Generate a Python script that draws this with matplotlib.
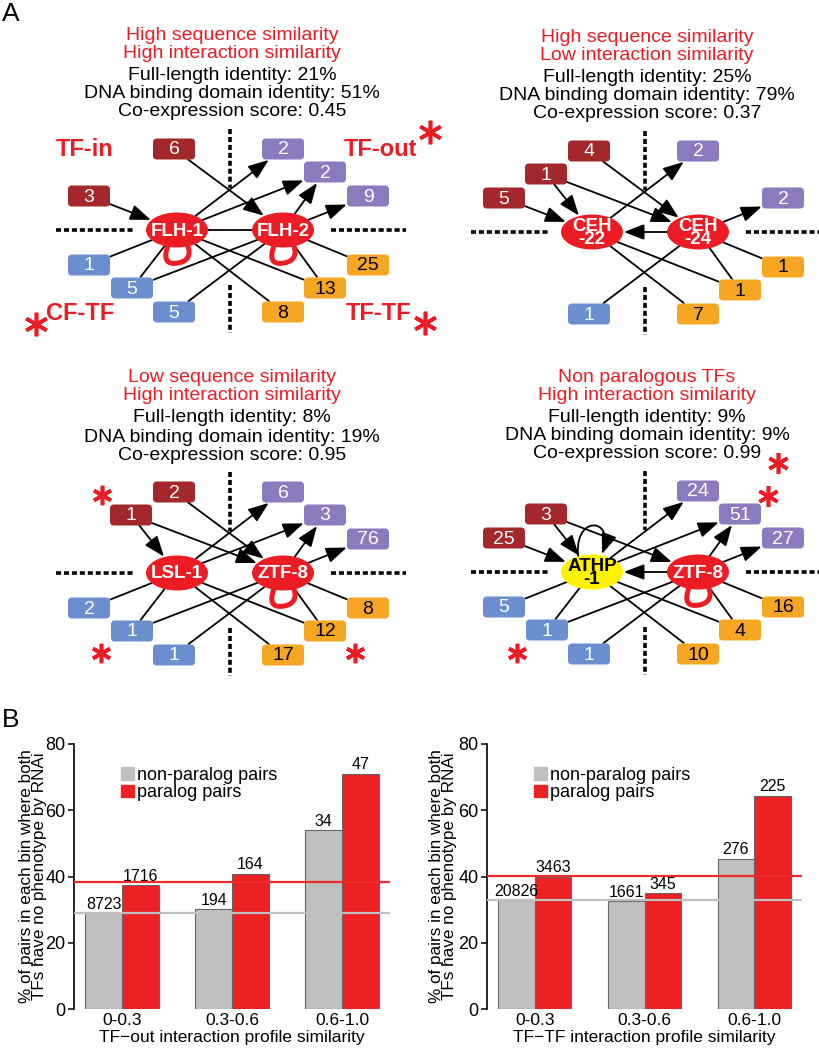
import matplotlib
matplotlib.use("Agg")
import matplotlib.pyplot as plt
from matplotlib.patches import FancyBboxPatch, Ellipse, FancyArrowPatch, Patch, PathPatch
from matplotlib.path import Path

plt.rcParams['font.family'] = ['Liberation Sans', 'DejaVu Sans']

W, H = 819, 1050
RED = "#ec1c24"
BOX_COL = {"in": "#a3282b", "out": "#8a7bbf", "cf": "#6b8ecf", "tt": "#f6a623"}
BOX_TXT = {"in": "white", "out": "white", "cf": "white", "tt": "black"}

# ---- panel A: the four example TF pairs ----
NET_CENTERS = [(230, 230), (645, 232), (230, 573), (645, 572)]
NET_TITLES = [("High sequence similarity", "High interaction similarity"),
              ("High sequence similarity", "Low interaction similarity"),
              ("Low sequence similarity", "High interaction similarity"),
              ("Non paralogous TFs", "High interaction similarity")]
FULL_ID = ["21%", "25%", "8%", "9%"]
DBD_ID = ["51%", "79%", "19%", "9%"]
COEXPR = ["0.45", "0.37", "0.95", "0.99"]
TF_NAMES = [("FLH-1", "FLH-2"), ("CEH\n-22", "CEH\n-24"), ("LSL-1", "ZTF-8"), ("ATHP\n-1", "ZTF-8")]
TF_FILL = [(RED, RED), (RED, RED), (RED, RED), ("#fff200", RED)]

# interactor counts per slot (in = TF-in, out = TF-out, cf = CF-TF, tt = TF-TF)
NET_COUNTS = [
    {"in0": 6, "in2": 3, "out0": 2, "out1": 2, "out2": 9,
     "cf0": 1, "cf1": 5, "cf2": 5, "tt0": 25, "tt1": 13, "tt2": 8},
    {"in0": 4, "in1": 1, "in2": 5, "out0": 2, "out2": 2,
     "cf2": 1, "tt0": 1, "tt1": 1, "tt2": 7},
    {"in0": 2, "in1": 1, "out0": 6, "out1": 3, "out2": 76,
     "cf0": 2, "cf1": 1, "cf2": 1, "tt0": 8, "tt1": 12, "tt2": 17},
    {"in1": 3, "in2": 25, "out0": 24, "out1": 51, "out2": 27,
     "cf0": 5, "cf1": 1, "cf2": 1, "tt0": 16, "tt1": 4, "tt2": 10},
]
# (slot, tf) edges; tf 0 = left TF, 1 = right TF
NET_EDGES = [
    [("in0", 1), ("in2", 0), ("out0", 0), ("out1", 0), ("out1", 1), ("out2", 1),
     ("cf0", 0), ("cf1", 0), ("cf1", 1), ("cf2", 1), ("tt1", 0), ("tt2", 0), ("tt0", 1), ("tt1", 1)],
    [("in0", 1), ("in1", 0), ("in1", 1), ("in2", 0), ("out0", 0), ("out2", 1),
     ("cf2", 1), ("tt0", 1), ("tt1", 1), ("tt1", 0), ("tt2", 0)],
    [("in0", 1), ("in1", 0), ("in1", 1), ("out0", 0), ("out1", 0), ("out1", 1), ("out2", 1),
     ("cf0", 0), ("cf1", 0), ("cf1", 1), ("cf2", 1), ("tt1", 0), ("tt2", 0), ("tt0", 1), ("tt1", 1)],
    [("in1", 0), ("in1", 1), ("in2", 0), ("out0", 0), ("out1", 0), ("out1", 1), ("out2", 1),
     ("cf0", 0), ("cf1", 0), ("cf1", 1), ("cf2", 1), ("tt1", 0), ("tt2", 0), ("tt0", 1), ("tt1", 1)],
]
TF_LINK = ["line", "right_to_left", None, "right_to_left"]
RED_LOOPS = [(True, True), (False, False), (False, True), (False, True)]
AUTO_LOOPS = [(False, False), (False, False), (False, False), (True, False)]

# layout of the box slots relative to the pair centre
SLOTS = {"in0": (-56, -81), "in1": (-99, -58), "in2": (-141, -34),
         "out0": (53, -81), "out1": (95, -58), "out2": (138, -34),
         "cf0": (-141, 35), "cf1": (-98, 58), "cf2": (-56, 82),
         "tt0": (138, 35), "tt1": (95, 58), "tt2": (53, 82)}
TF_DX = 53
BW, BH = 42, 21
TITLE_DY = [-195, -177, -155, -136, -118]
HEAD = "-|>,head_length=1.0,head_width=0.38"

# red asterisks: (x, y, size)
STARS = [(430, 132, 17), (36, 324, 17), (425, 323, 17),
         (102, 495, 14), (101, 653, 14), (355, 653, 14),
         (778, 463, 15), (768, 496, 15), (517, 653, 14)]

# ---- panel B data ----
BINS = ["0-0.3", "0.3-0.6", "0.6-1.0"]
OUT_NONPARALOG = [29.0, 30.2, 53.9]
OUT_PARALOG = [37.4, 40.8, 71.0]
OUT_N_NONPARALOG = [8723, 194, 34]
OUT_N_PARALOG = [1716, 164, 47]
OUT_BASELINE = [29.1, 38.2]          # non-paralog, paralog
TT_NONPARALOG = [32.9, 32.6, 45.4]
TT_PARALOG = [40.0, 34.9, 64.4]
TT_N_NONPARALOG = [20826, 1661, 276]
TT_N_PARALOG = [3463, 345, 225]
TT_BASELINE = [32.8, 40.1]

GREY = "#c0c0c0"
BAR_RED = "#ed2024"

fig = plt.figure(figsize=(W / 100, H / 100), dpi=100)
ax = fig.add_axes([0, 0, 1, 1])
ax.set_xlim(0, W)
ax.set_ylim(H, 0)
ax.axis("off")


def dotted(x0, y0, x1, y1):
    ax.plot([x0, x1], [y0, y1], color="black", lw=2.6, ls=(0, (1.4, 0.8)),
            solid_capstyle="butt", dash_capstyle="butt", zorder=0.5)


def arrow(pa, pb, a, b, head):
    ax.add_patch(FancyArrowPatch(a, b, patchA=pa, patchB=pb, arrowstyle=HEAD if head else "-",
                                 mutation_scale=12.5, lw=1.3, color="black",
                                 shrinkA=0, shrinkB=0.5, zorder=1))


for k, (cx, cy) in enumerate(NET_CENTERS):
    # titles
    lines = [NET_TITLES[k][0], NET_TITLES[k][1],
             f"Full-length identity: {FULL_ID[k]}",
             f"DNA binding domain identity: {DBD_ID[k]}",
             f"Co-expression score: {COEXPR[k]}"]
    for i, (t, dy) in enumerate(zip(lines, TITLE_DY)):
        ax.text(cx + 2, cy + dy, t, ha="center", va="center", fontsize=14,
                color=RED if i < 2 else "black")

    # quadrant guides
    dotted(cx - 174, cy, cx - 97, cy)
    dotted(cx + 101, cy, cx + 176, cy)
    dotted(cx, cy - 101, cx, cy - 42)
    dotted(cx, cy + 55, cx, cy + 103)

    # TF nodes
    tf_pos = [(cx - TF_DX, cy), (cx + TF_DX, cy)]
    tf_patch = []
    for j, (tx, ty) in enumerate(tf_pos):
        e = Ellipse((tx, ty), 62, 35, fc=TF_FILL[k][j], ec="none", zorder=3)
        ax.add_patch(e)
        tf_patch.append(e)
        ax.text(tx, ty + 1, TF_NAMES[k][j], ha="center", va="center",
                fontsize=13.5, fontweight="bold", linespacing=0.75,
                color="black" if TF_FILL[k][j] != RED else "white", zorder=4)
        if RED_LOOPS[k][j]:
            verts = [(tx - 8, ty + 13), (tx - 15, ty + 30), (tx - 10, ty + 35), (tx + 1, ty + 33),
                     (tx + 14, ty + 31), (tx + 14, ty + 20), (tx + 9, ty + 13)]
            codes = [Path.MOVETO] + [Path.CURVE4] * 6
            ax.add_patch(PathPatch(Path(verts, codes), fc="white", ec=RED, lw=3.6, zorder=2))
        if AUTO_LOOPS[k][j]:
            verts = [(tx - 13, ty - 10), (tx - 22, ty - 58), (tx + 24, ty - 56), (tx + 10, ty - 18)]
            codes = [Path.MOVETO] + [Path.CURVE4] * 3
            ax.add_patch(FancyArrowPatch(path=Path(verts, codes), arrowstyle=HEAD,
                                         mutation_scale=12.5, lw=1.3, color="black", zorder=1))

    # interactor boxes
    boxes = {}
    for slot, n in NET_COUNTS[k].items():
        dx, dy = SLOTS[slot]
        bx, by = cx + dx, cy + dy
        kind = slot[:-1]
        p = FancyBboxPatch((bx - BW / 2, by - BH / 2), BW, BH,
                           boxstyle="round,pad=0,rounding_size=4",
                           fc=BOX_COL[kind], ec="none", zorder=3)
        ax.add_patch(p)
        ax.text(bx, by + 1, str(n), ha="center", va="center", fontsize=14,
                color=BOX_TXT[kind], zorder=4)
        boxes[slot] = (p, (bx, by))

    # edges
    for slot, j in NET_EDGES[k]:
        bp, bxy = boxes[slot]
        kind = slot[:-1]
        if kind == "in":
            arrow(bp, tf_patch[j], bxy, tf_pos[j], True)
        elif kind == "out":
            arrow(tf_patch[j], bp, tf_pos[j], bxy, True)
        else:
            arrow(tf_patch[j], bp, tf_pos[j], bxy, False)

    if TF_LINK[k] == "line":
        arrow(tf_patch[0], tf_patch[1], tf_pos[0], tf_pos[1], False)
    elif TF_LINK[k] == "right_to_left":
        arrow(tf_patch[1], tf_patch[0], tf_pos[1], tf_pos[0], True)

# category labels of the first network
for t, x, y in [("TF-in", 85, 149), ("TF-out", 380, 149), ("CF-TF", 80, 313), ("TF-TF", 379, 313)]:
    ax.text(x, y, t, ha="center", va="center", fontsize=17, fontweight="bold", color=RED)

for x, y, s in STARS:
    ax.plot([x], [y], marker=(6, 2, 0), ms=s, mew=2.6, color=RED, ls="none")

ax.text(2, 14, "A", ha="left", va="center", fontsize=19)
ax.text(2, 720, "B", ha="left", va="center", fontsize=19)


# ---- panel B ----
def bars(rect, nonpar, par, n_nonpar, n_par, base, xlabel, lab_x):
    b = fig.add_axes(rect)
    b.patch.set_alpha(0)
    x = range(len(BINS))
    w = 0.332
    g = b.bar([i - w / 2 for i in x], nonpar, w, color=GREY, ec="#666666", lw=0.8, zorder=2)
    r = b.bar([i + w / 2 for i in x], par, w, color=BAR_RED, ec="#666666", lw=0.8, zorder=2)
    b.bar_label(g, labels=[str(v) for v in n_nonpar], padding=1, fontsize=11.5)
    b.bar_label(r, labels=[str(v) for v in n_par], padding=1, fontsize=11.5)
    b.axhline(base[0], color=GREY, lw=1.6, zorder=3)
    b.axhline(base[1], color="#ee2a2a", lw=1.6, zorder=3)
    b.set_xlim(-0.436, 2.436)
    b.set_ylim(0, 80)
    b.set_yticks([0, 20, 40, 60, 80])
    b.set_xticks(list(x))
    b.set_xticklabels(BINS)
    for s in ("top", "right", "bottom"):
        b.spines[s].set_visible(False)
    b.spines["left"].set_linewidth(1.2)
    b.tick_params(axis="y", length=4.5, width=1.1, labelsize=13, pad=1.5)
    b.tick_params(axis="x", length=0, labelsize=12.5, pad=3)
    b.set_xlabel(xlabel, fontsize=12.5, labelpad=1)
    b.set_ylabel("% of pairs in each bin where both\nTFs have no phenotype by RNAi",
                 fontsize=12.3, linespacing=0.85)
    b.yaxis.set_label_coords(lab_x, 0.5)
    b.legend(handles=[Patch(color=GREY, label="non-paralog pairs"),
                      Patch(color=BAR_RED, label="paralog pairs")],
             loc="upper left", bbox_to_anchor=(0.15, 0.915), frameon=False,
             fontsize=13, handlelength=0.7, handleheight=0.7, handletextpad=0.15,
             labelspacing=0.05, borderpad=0, borderaxespad=0)
    return b


bars([74 / W, 41 / H, 316 / W, 265 / H], OUT_NONPARALOG, OUT_PARALOG,
     OUT_N_NONPARALOG, OUT_N_PARALOG, OUT_BASELINE,
     "TF\u2212out interaction profile similarity", -0.086)
bars([487 / W, 41 / H, 315 / W, 265 / H], TT_NONPARALOG, TT_PARALOG,
     TT_N_NONPARALOG, TT_N_PARALOG, TT_BASELINE,
     "TF\u2212TF interaction profile similarity", -0.096)

fig.savefig("out.png", dpi=100)
